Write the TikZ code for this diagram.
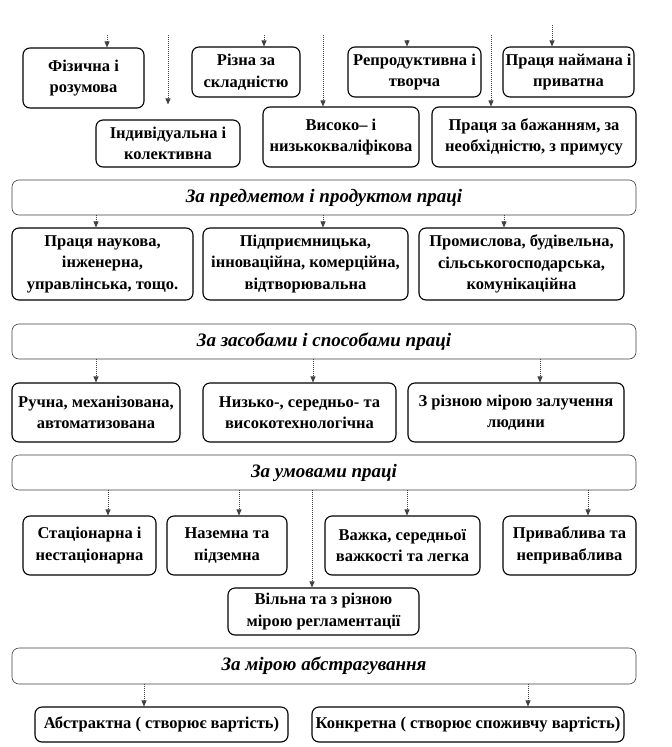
\documentclass[tikz,border=0pt]{standalone}
\usepackage{fontspec}
\setmainfont{Liberation Serif}
\usetikzlibrary{arrows.meta}
\newcommand\bxfont{\bfseries\fontsize{16.5}{21.5}\selectfont}
\newcommand\hdfont{\bfseries\itshape\fontsize{19}{22}\selectfont}
\begin{document}
\begin{tikzpicture}[x=1pt,y=-1pt,
  box/.style={draw=black, line width=1.1pt, rounded corners=7pt, align=center, inner sep=0pt, font=\bxfont, fill=white},
  hdr/.style={draw=black!75, line width=0.6pt, rounded corners=7pt, align=center, inner sep=0pt, font=\hdfont, minimum width=624pt, minimum height=35pt, fill=white},
  conn/.style={draw=black!75, line width=0.7pt, dash pattern=on 1pt off 1pt, -{Triangle[length=6pt,width=5pt]}}]
\useasboundingbox (0,0) rectangle (672,747);
% top level
\node[box, minimum width=121pt, minimum height=60pt] (fiz) at (83.5,78) {Фізична і\\розумова};
\node[box, minimum width=108pt, minimum height=50pt] (rizna) at (246,72) {Різна за\\складністю};
\node[box, minimum width=133pt, minimum height=50pt] (repr) at (414.5,72) {Репродуктивна і\\творча};
\node[box, minimum width=131pt, minimum height=50pt] (naim) at (568.5,72) {Праця наймана і\\приватна};
\node[box, minimum width=144pt, minimum height=47pt] (indiv) at (168,143.5) {Індивідуальна і\\колективна};
\node[box, minimum width=156pt, minimum height=60pt] (vys) at (341,137) {Високо– і\\низькокваліфікова};
\node[box, minimum width=204pt, minimum height=60pt] (bazh) at (534,137) {Праця за бажанням, за\\необхідністю, з примусу};
\coordinate (t1) at (107,35);
\coordinate (t2) at (168,35);
\coordinate (t3) at (264,35);
\coordinate (t4) at (323,35);
\coordinate (t5) at (407,40);
\coordinate (t6) at (491,35);
\coordinate (t7) at (552,25);
\draw[conn] (t1) -- (t1 |- fiz.north);
\draw[conn, shorten >=15pt] (t2) -- (t2 |- indiv.north);
\draw[conn] (t3) -- (t3 |- rizna.north);
\draw[conn] (t4) -- (t4 |- vys.north);
\draw[conn] (t5) -- (t5 |- repr.north);
\draw[conn] (t6) -- (t6 |- bazh.north);
\draw[conn] (t7) -- (t7 |- naim.north);
% section 1
\node[hdr] (h1) at (324,197.5) {За предметом і продуктом праці};
\node[box, minimum width=181pt, minimum height=72pt] (nauk) at (102.5,264) {Праця наукова,\\інженерна,\\управлінська, тощо.};
\node[box, minimum width=205pt, minimum height=72pt] (pidpr) at (305.5,264) {Підприємницька,\\інноваційна, комерційна,\\відтворювальна};
\node[box, minimum width=205pt, minimum height=72pt] (prom) at (521.5,264) {Промислова, будівельна,\\сільськогосподарська,\\комунікаційна};
\coordinate (a11) at ([xshift=-6.5pt]nauk.north);
\coordinate (a12) at ([xshift=17.5pt]pidpr.north);
\coordinate (a13) at ([xshift=-17.5pt]prom.north);
\draw[conn] (h1.south -| a11) -- (a11);
\draw[conn] (h1.south -| a12) -- (a12);
\draw[conn] (h1.south -| a13) -- (a13);
% section 2
\node[hdr] (h2) at (324,341.5) {За засобами і способами праці};
\node[box, minimum width=168pt, minimum height=59pt] (ruch) at (96,412.5) {Ручна, механізована,\\автоматизована};
\node[box, minimum width=193pt, minimum height=59pt] (nyzk) at (299.5,412.5) {Низько-, середньо- та\\високотехнологічна};
\node[box, minimum width=216pt, minimum height=59pt] (zal) at (516,412.5) {З різною мірою залучення\\людини};
\coordinate (a21) at (ruch.north);
\coordinate (a22) at ([xshift=13.5pt]nyzk.north);
\coordinate (a23) at ([xshift=24pt]zal.north);
\draw[conn] (h2.south -| a21) -- (a21);
\draw[conn] (h2.south -| a22) -- (a22);
\draw[conn] (h2.south -| a23) -- (a23);
% section 3
\node[hdr] (h3) at (324,472.5) {За умовами праці};
\node[box, minimum width=133pt, minimum height=59pt] (stac) at (89.5,545.5) {Стаціонарна і\\нестаціонарна};
\node[box, minimum width=120pt, minimum height=59pt] (nazem) at (227,545.5) {Наземна та\\підземна};
\node[box, minimum width=155pt, minimum height=59pt] (vazh) at (402.5,545.5) {Важка, середньої\\важкості та легка};
\node[box, minimum width=133pt, minimum height=59pt] (pryv) at (569.5,545.5) {Приваблива та\\неприваблива};
\node[box, minimum width=191pt, minimum height=47pt] (viln) at (323.5,611.5) {Вільна та з різною\\мірою регламентації};
\coordinate (a31) at ([xshift=18.5pt]stac.north);
\coordinate (a32) at ([xshift=12pt]nazem.north);
\coordinate (a33) at ([xshift=4.5pt]vazh.north);
\coordinate (a34) at ([xshift=18.5pt]pryv.north);
\coordinate (a35) at ([xshift=-11.5pt]viln.north);
\draw[conn] (h3.south -| a31) -- (a31);
\draw[conn] (h3.south -| a32) -- (a32);
\draw[conn] (h3.south -| a33) -- (a33);
\draw[conn] (h3.south -| a34) -- (a34);
\draw[conn] (h3.south -| a35) -- (a35);
% section 4
\node[hdr, minimum height=36pt] (h4) at (324,666) {За мірою абстрагування};
\node[box, minimum width=253pt, minimum height=35pt] (abs) at (161.5,724.5) {Абстрактна ( створює вартість)};
\node[box, minimum width=312pt, minimum height=35pt] (konk) at (468,724.5) {Конкретна ( створює споживчу вартість)};
\coordinate (a41) at ([xshift=-17.5pt]abs.north);
\coordinate (a42) at ([xshift=60pt]konk.north);
\draw[conn] (h4.south -| a41) -- (a41);
\draw[conn] (h4.south -| a42) -- (a42);
\end{tikzpicture}
\end{document}
